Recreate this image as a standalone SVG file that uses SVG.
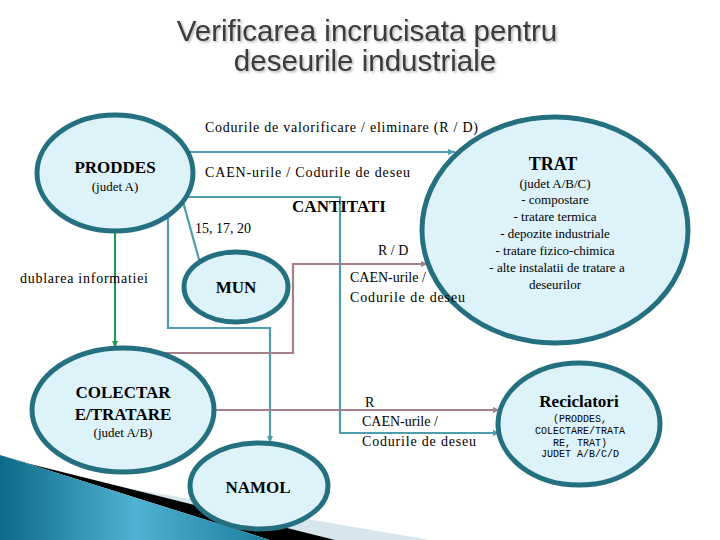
<svg xmlns="http://www.w3.org/2000/svg" width="720" height="540" viewBox="0 0 720 540">
<defs>
<linearGradient id="blueGrad" x1="0" y1="0" x2="1" y2="0">
<stop offset="0" stop-color="#0E6A88"/>
<stop offset="0.5" stop-color="#4FB2D2"/>
<stop offset="1" stop-color="#1C7E9D"/>
</linearGradient>
<filter id="shadow" x="-5%" y="-20%" width="110%" height="150%">
<feDropShadow dx="1.5" dy="1.5" stdDeviation="0.8" flood-color="#000000" flood-opacity="0.3"/>
</filter>
<marker id="arTeal" markerUnits="userSpaceOnUse" markerWidth="8" markerHeight="8" refX="7" refY="4" orient="auto">
<path d="M0,1 L7,4 L0,7 Z" fill="#4D9DAD"/>
</marker>
<marker id="arMauve" markerUnits="userSpaceOnUse" markerWidth="8" markerHeight="8" refX="7" refY="4" orient="auto">
<path d="M0,1 L7,4 L0,7 Z" fill="#A5808B"/>
</marker>
<marker id="arGreen" markerUnits="userSpaceOnUse" markerWidth="8" markerHeight="8" refX="7" refY="4" orient="auto">
<path d="M0,1 L7,4 L0,7 Z" fill="#1E9B4E"/>
</marker>
<style>
.node{fill:#DDF3F9;stroke:#246F80;stroke-width:5}
.teal{fill:none;stroke:#4D9DAD;stroke-width:2.2;marker-end:url(#arTeal)}
.tealn{fill:none;stroke:#4D9DAD;stroke-width:2.2}
.mauve{fill:none;stroke:#A5808B;stroke-width:2.2;marker-end:url(#arMauve)}
.green{fill:none;stroke:#1E9B4E;stroke-width:2;marker-end:url(#arGreen)}
.lbl{font-family:"Liberation Serif","Times New Roman",serif;font-size:14px;fill:#000}
.nt{font-family:"Liberation Serif","Times New Roman",serif;font-size:17px;font-weight:bold;fill:#000;text-anchor:middle}
.ns{font-family:"Liberation Serif","Times New Roman",serif;font-size:13px;fill:#000;text-anchor:middle}
.tiny{font-family:"Liberation Mono","Courier New",monospace;font-size:10px;fill:#000;text-anchor:middle}
.title{font-family:"Liberation Sans",Arial,sans-serif;font-size:29.5px;fill:#3A3A3A;text-anchor:middle}
</style>
</defs>
<rect width="720" height="540" fill="#ffffff"/>

<!-- decoration -->
<g id="decoration">
<path d="M120,487 L430,540 L330,540 L30,464 Z" fill="#D6E6ED"/>
<path d="M30,464 L335,540 L270,540 L0,455 Z" fill="#000000"/>
<path d="M0,455 L270,540 L0,540 Z" fill="url(#blueGrad)"/>
</g>

<!-- title -->
<g id="title" filter="url(#shadow)">
<text class="title" x="367" y="41">Verificarea incrucisata pentru</text>
<text class="title" x="365" y="71">deseurile industriale</text>
</g>

<!-- connectors -->
<g id="connectors">
<path class="teal" d="M189,152 L455,152"/>
<path class="teal" d="M183,197 L340,197 L340,433 L500,433"/>
<path class="tealn" d="M182,198 L200,263"/>
<path class="teal" d="M168,215 L168,328 L270,328 L270,443"/>
<path class="mauve" d="M157,353 L293,353 L293,264 L428,264"/>
<path class="mauve" d="M213,410 L500,410"/>
<path class="green" d="M115,232 L115,348"/>
</g>

<!-- nodes -->
<g id="PRODDES">
<ellipse class="node" cx="115" cy="173" rx="78" ry="58"/>
<text class="nt" x="115" y="173">PRODDES</text>
<text class="ns" x="115" y="191">(judet A)</text>
</g>
<g id="TRAT">
<ellipse class="node" cx="555" cy="230" rx="133" ry="113"/>
<text class="nt" x="553" y="170" style="font-size:18px">TRAT</text>
<text class="ns" x="555" y="188">(judet A/B/C)</text>
<text class="ns" x="555" y="204">- compostare</text>
<text class="ns" x="555" y="221">- tratare termica</text>
<text class="ns" x="555" y="238">- depozite industriale</text>
<text class="ns" x="555" y="255">- tratare fizico-chimica</text>
<text class="ns" x="557" y="272">- alte instalatii de tratare a</text>
<text class="ns" x="555" y="289">deseurilor</text>
</g>
<g id="MUN">
<ellipse class="node" cx="236" cy="287" rx="52" ry="35"/>
<text class="nt" x="236" y="293">MUN</text>
</g>
<g id="COLECTARE">
<ellipse class="node" cx="123" cy="410" rx="91" ry="62"/>
<text class="nt" x="123" y="398">COLECTAR</text>
<text class="nt" x="123" y="420">E/TRATARE</text>
<text class="ns" x="123" y="437">(judet A/B)</text>
</g>
<g id="NAMOL">
<ellipse class="node" cx="259" cy="486" rx="69" ry="43"/>
<text class="nt" x="258" y="493">NAMOL</text>
</g>
<g id="Reciclatori">
<ellipse class="node" cx="579" cy="424" rx="81" ry="61"/>
<text class="nt" x="579" y="407">Reciclatori</text>
<text class="tiny" x="580" y="422">(PRODDES,</text>
<text class="tiny" x="580" y="434">COLECTARE/TRATA</text>
<text class="tiny" x="580" y="446">RE, TRAT)</text>
<text class="tiny" x="580" y="457">JUDET A/B/C/D</text>
</g>

<!-- connector labels -->
<g id="labels">
<text class="lbl" x="205" y="132" textLength="273" lengthAdjust="spacing">Codurile de valorificare / eliminare (R / D)</text>
<text class="lbl" x="205" y="177" textLength="205" lengthAdjust="spacing">CAEN-urile / Codurile de deseu</text>
<text class="nt" x="339" y="212">CANTITATI</text>
<text class="lbl" x="195" y="233">15, 17, 20</text>
<text class="lbl" x="20" y="283" textLength="128" lengthAdjust="spacing">dublarea informatiei</text>
<text class="lbl" x="378" y="255">R / D</text>
<text class="lbl" x="350" y="282">CAEN-urile /</text>
<text class="lbl" x="350" y="302" textLength="115" lengthAdjust="spacing">Codurile de deseu</text>
<text class="lbl" x="365" y="407">R</text>
<text class="lbl" x="362" y="426">CAEN-urile /</text>
<text class="lbl" x="362" y="446" textLength="114" lengthAdjust="spacing">Codurile de deseu</text>
</g>
</svg>
